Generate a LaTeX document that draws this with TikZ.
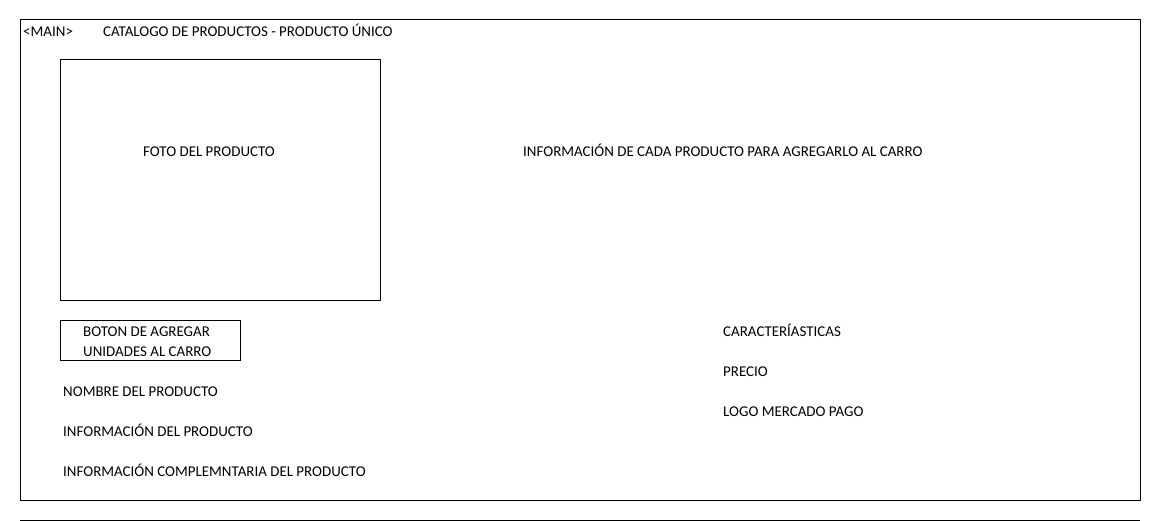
\documentclass[tikz,border=0pt]{standalone}
\usepackage{fontspec}
\setmainfont{Carlito}
\begin{document}
\begin{tikzpicture}[x=1pt,y=-1pt,
  box/.style={draw=black,line width=1pt},
  lbl/.style={anchor=base west,inner sep=0pt,font=\fontsize{14.95}{17}\selectfont}]
\useasboundingbox (0,0) rectangle (1161,521);
\draw[box] (20,20) rectangle (1140,500);
\coordinate (la) at (20,520);
\coordinate (lb) at (1140,520);
\draw[line width=1pt] (la) -- (lb);
\node[lbl] (main) at (23,36.5) {<MAIN>};
\node[lbl] (title) at (103,36.5) {CATALOGO DE PRODUCTOS - PRODUCTO ÚNICO};
\draw[box] (60,60) rectangle (380,300);
\node[lbl] (foto) at (143,156.5) {FOTO DEL PRODUCTO};
\node[lbl] (info) at (523,156.5) {INFORMACIÓN DE CADA PRODUCTO PARA AGREGARLO AL CARRO};
\draw[box] (60,320) rectangle (240,360);
\node[lbl] (b1) at (83,336.5) {BOTON DE AGREGAR};
\node[lbl] (b2) at (83,356.5) {UNIDADES AL CARRO};
\node[lbl] (nom) at (63,396.5) {NOMBRE DEL PRODUCTO};
\node[lbl] (inf) at (63,436.5) {INFORMACIÓN DEL PRODUCTO};
\node[lbl] (comp) at (63,476.5) {INFORMACIÓN COMPLEMNTARIA DEL PRODUCTO};
\node[lbl] (car) at (723,336.5) {CARACTERÍASTICAS};
\node[lbl] (pre) at (723,376.5) {PRECIO};
\node[lbl] (logo) at (723,416.5) {LOGO MERCADO PAGO};
\end{tikzpicture}
\end{document}
